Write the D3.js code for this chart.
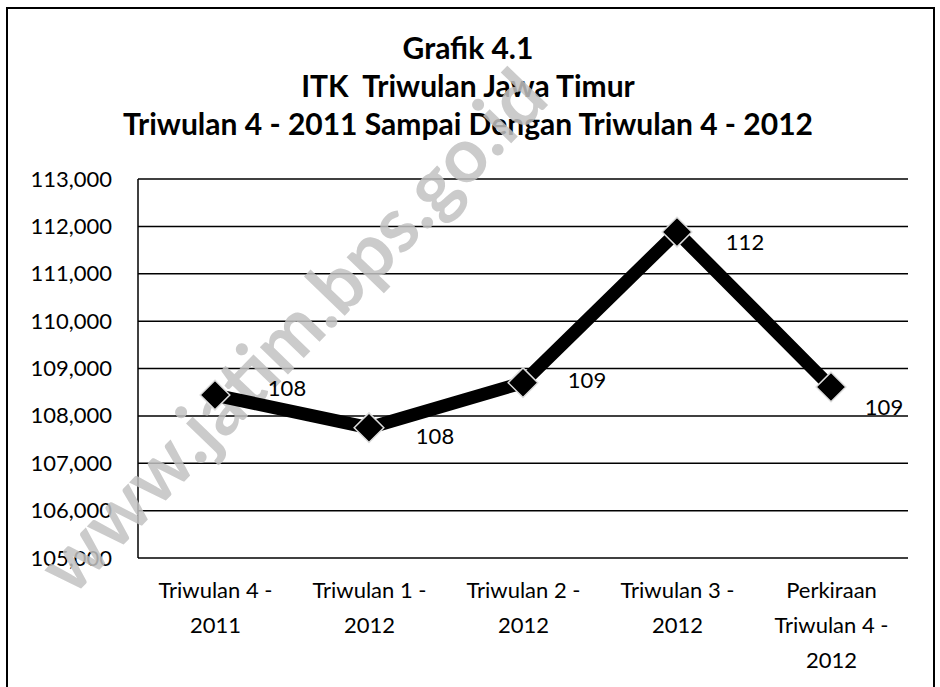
<!DOCTYPE html>
<html><head><meta charset="utf-8">
<script src="https://cdn.jsdelivr.net/npm/d3@7"></script>
<style>body{margin:0;background:#fff}svg{display:block}</style>
</head><body>
<svg id="c" width="940" height="687"></svg>
<script>
const categories = [["Triwulan 4 -","2011"],["Triwulan 1 -","2012"],["Triwulan 2 -","2012"],["Triwulan 3 -","2012"],["Perkiraan","Triwulan 4 -","2012"]];
const values = [108440, 107750, 108700, 111880, 108610];
const yTicks = [105000,106000,107000,108000,109000,110000,111000,112000,113000];
const titleLines = ["Grafik 4.1","ITK  Triwulan Jawa Timur","Triwulan 4 - 2011 Sampai Dengan Triwulan 4 - 2012"];
const watermarkText = "www.jatim.bps.go.id";

const svg = d3.select("#c");
const font = "Lato, 'Open Sans', sans-serif";
const L=138, R=908, T=179, B=558;
const x = d3.scalePoint().domain(d3.range(categories.length)).range([L,R]).padding(0.5);
const y = d3.scaleLinear().domain([105000,113000]).range([B,T]);

// frame
svg.append("rect").attr("x",7).attr("y",8).attr("width",927).attr("height",700)
  .attr("fill","none").attr("stroke","#000").attr("stroke-width",2);

// title
svg.selectAll("text.title").data(titleLines).join("text").attr("class","title")
  .attr("x",468).attr("y",(d,i)=>59+i*38).attr("text-anchor","middle")
  .attr("font-family",font).attr("font-weight","bold").attr("font-size",30)
  .style("white-space","pre").text(d=>d);

// gridlines
svg.append("g").selectAll("line").data(yTicks).join("line")
  .attr("x1",L).attr("x2",R).attr("y1",d=>y(d)).attr("y2",d=>y(d))
  .attr("stroke","#000").attr("stroke-width",1.5);
svg.append("line").attr("x1",L).attr("x2",L).attr("y1",T).attr("y2",B).attr("stroke","#000").attr("stroke-width",1.5);

// y axis
const ya = svg.append("g").attr("transform",`translate(${L},0)`)
  .call(d3.axisLeft(y).tickValues(yTicks).tickFormat(d3.format(",")).tickSize(0).tickPadding(26));
ya.select(".domain").remove();
ya.selectAll("text").attr("font-family",font).attr("font-size",22).attr("fill","#000");

// x axis
const xa = svg.append("g").attr("transform",`translate(0,${B})`)
  .call(d3.axisBottom(x).tickSize(0).tickFormat(""));
xa.select(".domain").remove();
xa.selectAll(".tick").each(function(d){
  const t = d3.select(this).append("text").attr("fill","#000").attr("text-anchor","middle")
    .attr("font-family",font).attr("font-size",22);
  categories[d].forEach((s,i)=>t.append("tspan").attr("x",0).attr("y",40+i*35).text(s));
});

// watermark (fitted inside the picture along the diagonal)
const wm = svg.append("text").attr("font-family",font).attr("font-weight","bold")
  .attr("font-size",100).attr("fill","#c2c2c2").attr("opacity",0.85).text(watermarkText);
const wLen = wm.node().getComputedTextLength();
const fs = 100*690/wLen;
wm.attr("font-size",fs).attr("transform","translate(72,598) rotate(-46)");

// line
svg.append("path").datum(values)
  .attr("d", d3.line().x((d,i)=>x(i)).y(d=>y(d)))
  .attr("fill","none").attr("stroke","#000").attr("stroke-width",13).attr("stroke-linejoin","miter");

// markers
svg.append("g").selectAll("path").data(values).join("path")
  .attr("transform",(d,i)=>`translate(${x(i)},${y(d)})`)
  .attr("d", d3.symbol().type(d3.symbolDiamond2).size(560))
  .attr("fill","#000").attr("stroke","#ddd").attr("stroke-width",1.5);

// labels
const off = [[72,-7],[66,9],[64,-2],[68,10],[53,20]];
svg.append("g").selectAll("text").data(values).join("text")
  .attr("x",(d,i)=>x(i)+off[i][0]).attr("y",(d,i)=>y(d)+off[i][1]).attr("dy","0.35em")
  .attr("text-anchor","middle").attr("font-family",font).attr("font-size",22)
  .text(d=>Math.round(d/1000));
</script>
</body></html>
